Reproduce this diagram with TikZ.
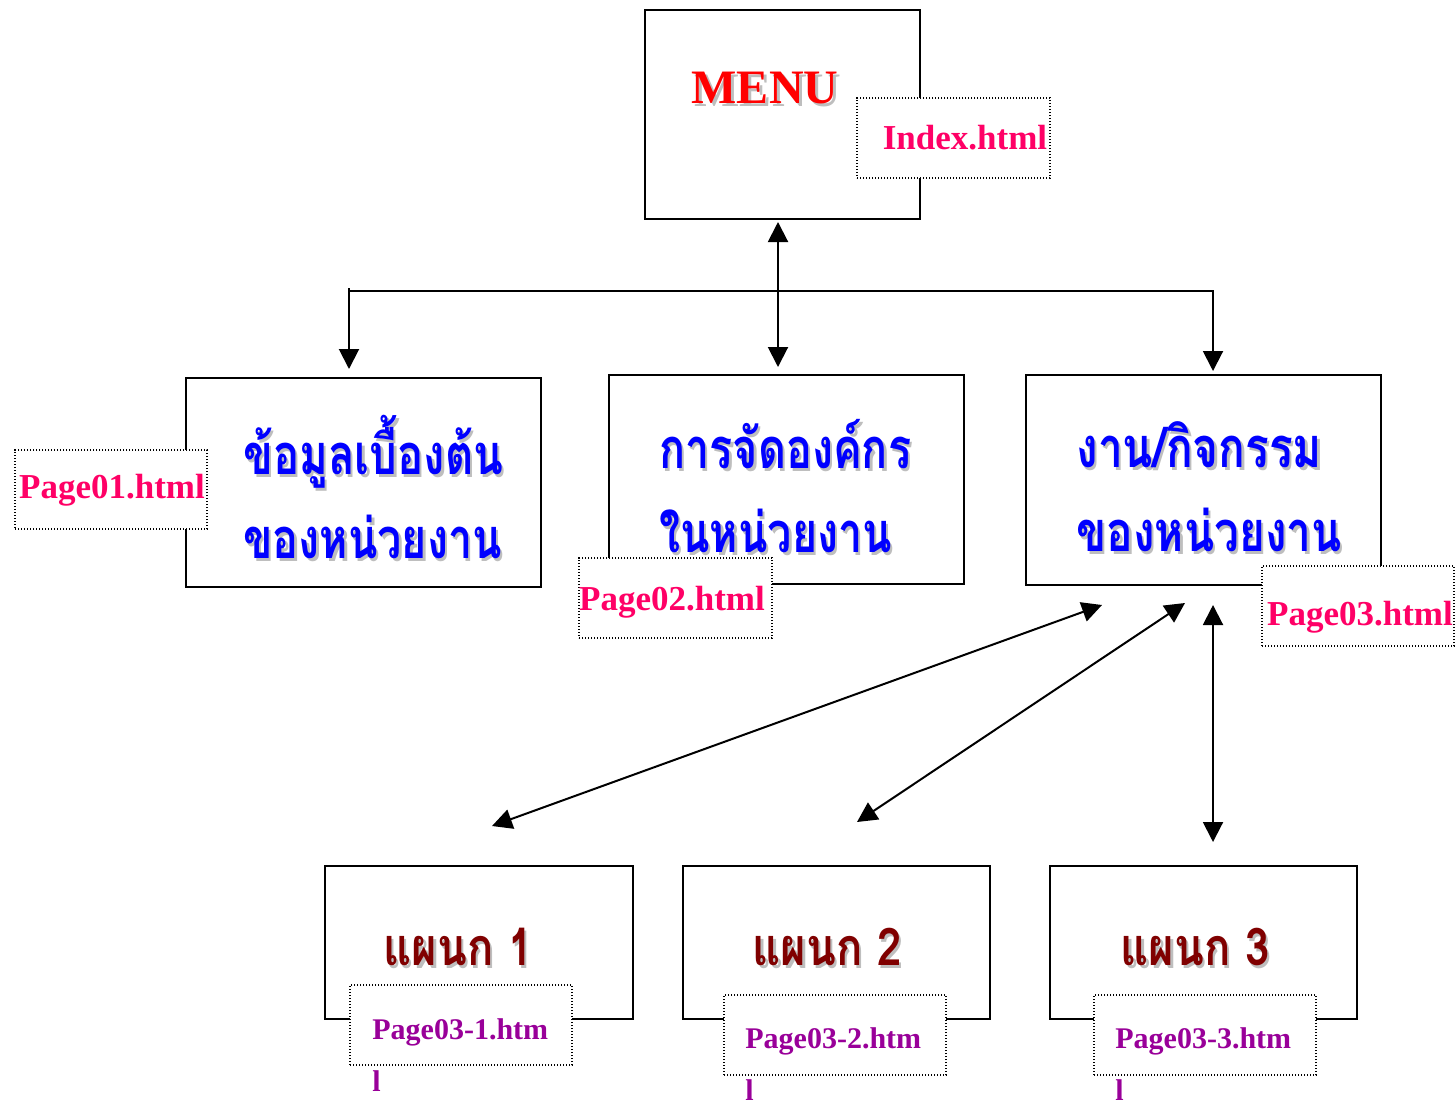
\documentclass[tikz,border=0pt]{standalone}
\usepackage{fontspec}
\setmainfont{Liberation Serif}
\newfontfamily\thaifont[Script=Thai]{Loma}
\usetikzlibrary{arrows.meta}
\definecolor{menured}{HTML}{FF0000}
\definecolor{linkpink}{HTML}{FF0066}
\definecolor{thaiblue}{HTML}{0000FF}
\definecolor{deptred}{HTML}{800000}
\definecolor{linkpurple}{HTML}{990099}
\definecolor{shadowgray}{HTML}{BEBEBE}
\newcommand\shd[2]{\leavevmode\rlap{\kern1.5pt\raisebox{-1.5pt}{\color{shadowgray}#2}}{\color{#1}#2}}
\newcommand\shdx[3]{\scalebox{#1}[1]{\shd{#2}{#3}}}
\begin{document}
\begin{tikzpicture}[x=0.5pt,y=-0.5pt,
  box/.style={draw=black, line width=1pt, fill=white, inner sep=0pt},
  linkbox/.style={draw=black, line width=0.6pt, dash pattern=on 0.6pt off 0.9pt, fill=white, inner sep=0pt},
  thai/.style={font=\thaifont\bfseries\fontsize{28pt}{42pt}\selectfont, inner sep=0pt, align=left, anchor=west},
  dept/.style={font=\thaifont\bfseries\fontsize{26pt}{30pt}\selectfont, inner sep=0pt},
  linktxt/.style={font=\bfseries\fontsize{17.5pt}{20pt}\selectfont, text=linkpink, inner sep=0pt},
  sublink/.style={font=\bfseries\fontsize{15pt}{26pt}\selectfont, text=linkpurple, inner sep=0pt, align=left, anchor=north west},
  conn/.style={line width=1pt, -{Triangle[length=10pt,width=10pt]}},
  dconn/.style={line width=1pt, {Triangle[length=10pt,width=10pt]}-{Triangle[length=10pt,width=10pt]}},
]
\useasboundingbox (0,0) rectangle (1455,1103);

% main boxes
\node[box, minimum width=137.5pt, minimum height=104.5pt] (menu) at (782.5,114.5) {};
\node[box, minimum width=177.5pt, minimum height=104.5pt] (box1) at (363.5,482.5) {};
\node[box, minimum width=177.5pt, minimum height=104.5pt] (box2) at (786.5,479.5) {};
\node[box, minimum width=177.5pt, minimum height=105pt] (box3) at (1203.5,480) {};
\node[box, minimum width=154pt, minimum height=76.5pt] (boxA) at (479,942.5) {};
\node[box, minimum width=153.5pt, minimum height=76.5pt] (boxB) at (836.5,942.5) {};
\node[box, minimum width=153.5pt, minimum height=76.5pt] (boxC) at (1203.5,942.5) {};

% texts in main boxes
\node[font=\bfseries\fontsize{24pt}{28pt}\selectfont, inner sep=0pt] (menutxt) at (765,90) {\shd{menured}{MENU}};
\node[thai] (t1) at (243,488) {\shdx{0.78}{thaiblue}{ข้อมูลเบื้องต้น}\\\shdx{0.77}{thaiblue}{ของหน่วยงาน}};
\node[thai] (t2) at (659,488) {\shdx{0.77}{thaiblue}{การจัดองค์กร}\\\shdx{0.77}{thaiblue}{ในหน่วยงาน}};
\node[thai] (t3) at (1076,488) {\shdx{0.79}{thaiblue}{งาน/กิจกรรม}\\\shdx{0.79}{thaiblue}{ของหน่วยงาน}};
\node[dept] (tA) at (458,948) {\shdx{0.84}{deptred}{แผนก 1}};
\node[dept] (tB) at (827,948) {\shdx{0.84}{deptred}{แผนก 2}};
\node[dept] (tC) at (1195,948) {\shdx{0.84}{deptred}{แผนก 3}};

% link boxes
\node[linkbox, minimum width=96.5pt, minimum height=40pt] (lidx) at (953.5,138) {};
\node[linktxt] (lidxt) at (965,138) {Index.html};
\node[linkbox, minimum width=96pt, minimum height=39.5pt] (l1) at (111,489.5) {};
\node[linktxt] (l1t) at (112,490) {Page01.html};
\node[linkbox, minimum width=96.5pt, minimum height=40pt] (l2) at (675.5,598) {};
\node[linktxt] (l2t) at (672,602) {Page02.html};
\node[linkbox, minimum width=96pt, minimum height=40pt] (l3) at (1358,606) {};
\node[linktxt] (l3t) at (1360,617) {Page03.html};
\node[linkbox, minimum width=111pt, minimum height=40pt] (lA) at (461,1025) {};
\node[sublink] (lAt) at (372,1018) {Page03-1.htm\\l};
\node[linkbox, minimum width=111pt, minimum height=40pt] (lB) at (835,1035) {};
\node[sublink] (lBt) at (745,1027) {Page03-2.htm\\l};
\node[linkbox, minimum width=111pt, minimum height=40pt] (lC) at (1205,1035) {};
\node[sublink] (lCt) at (1115,1027) {Page03-3.htm\\l};

% connectors
\coordinate (jL) at (349,288);
\coordinate (jM) at (778,291);
\coordinate (jR) at (1213,291);
\coordinate (d1) at (349,369);
\coordinate (d3) at (1213,371);
\draw[conn] (jL) -- (d1);
\draw[conn] (jL |- jR) -- (jR) -- (d3);
\draw[dconn, shorten <=1pt, shorten >=3.5pt] (menu.south -| jM) -- (box2.north -| jM);

\coordinate (u1) at (1102,605);
\coordinate (e1) at (492,826);
\coordinate (u2) at (1185,603);
\coordinate (e2) at (857,822);
\coordinate (u3) at (1213,605);
\coordinate (e3) at (1213,842);
\draw[dconn] (u1) -- (e1);
\draw[dconn] (u2) -- (e2);
\draw[dconn] (u3) -- (e3);
\end{tikzpicture}
\end{document}
